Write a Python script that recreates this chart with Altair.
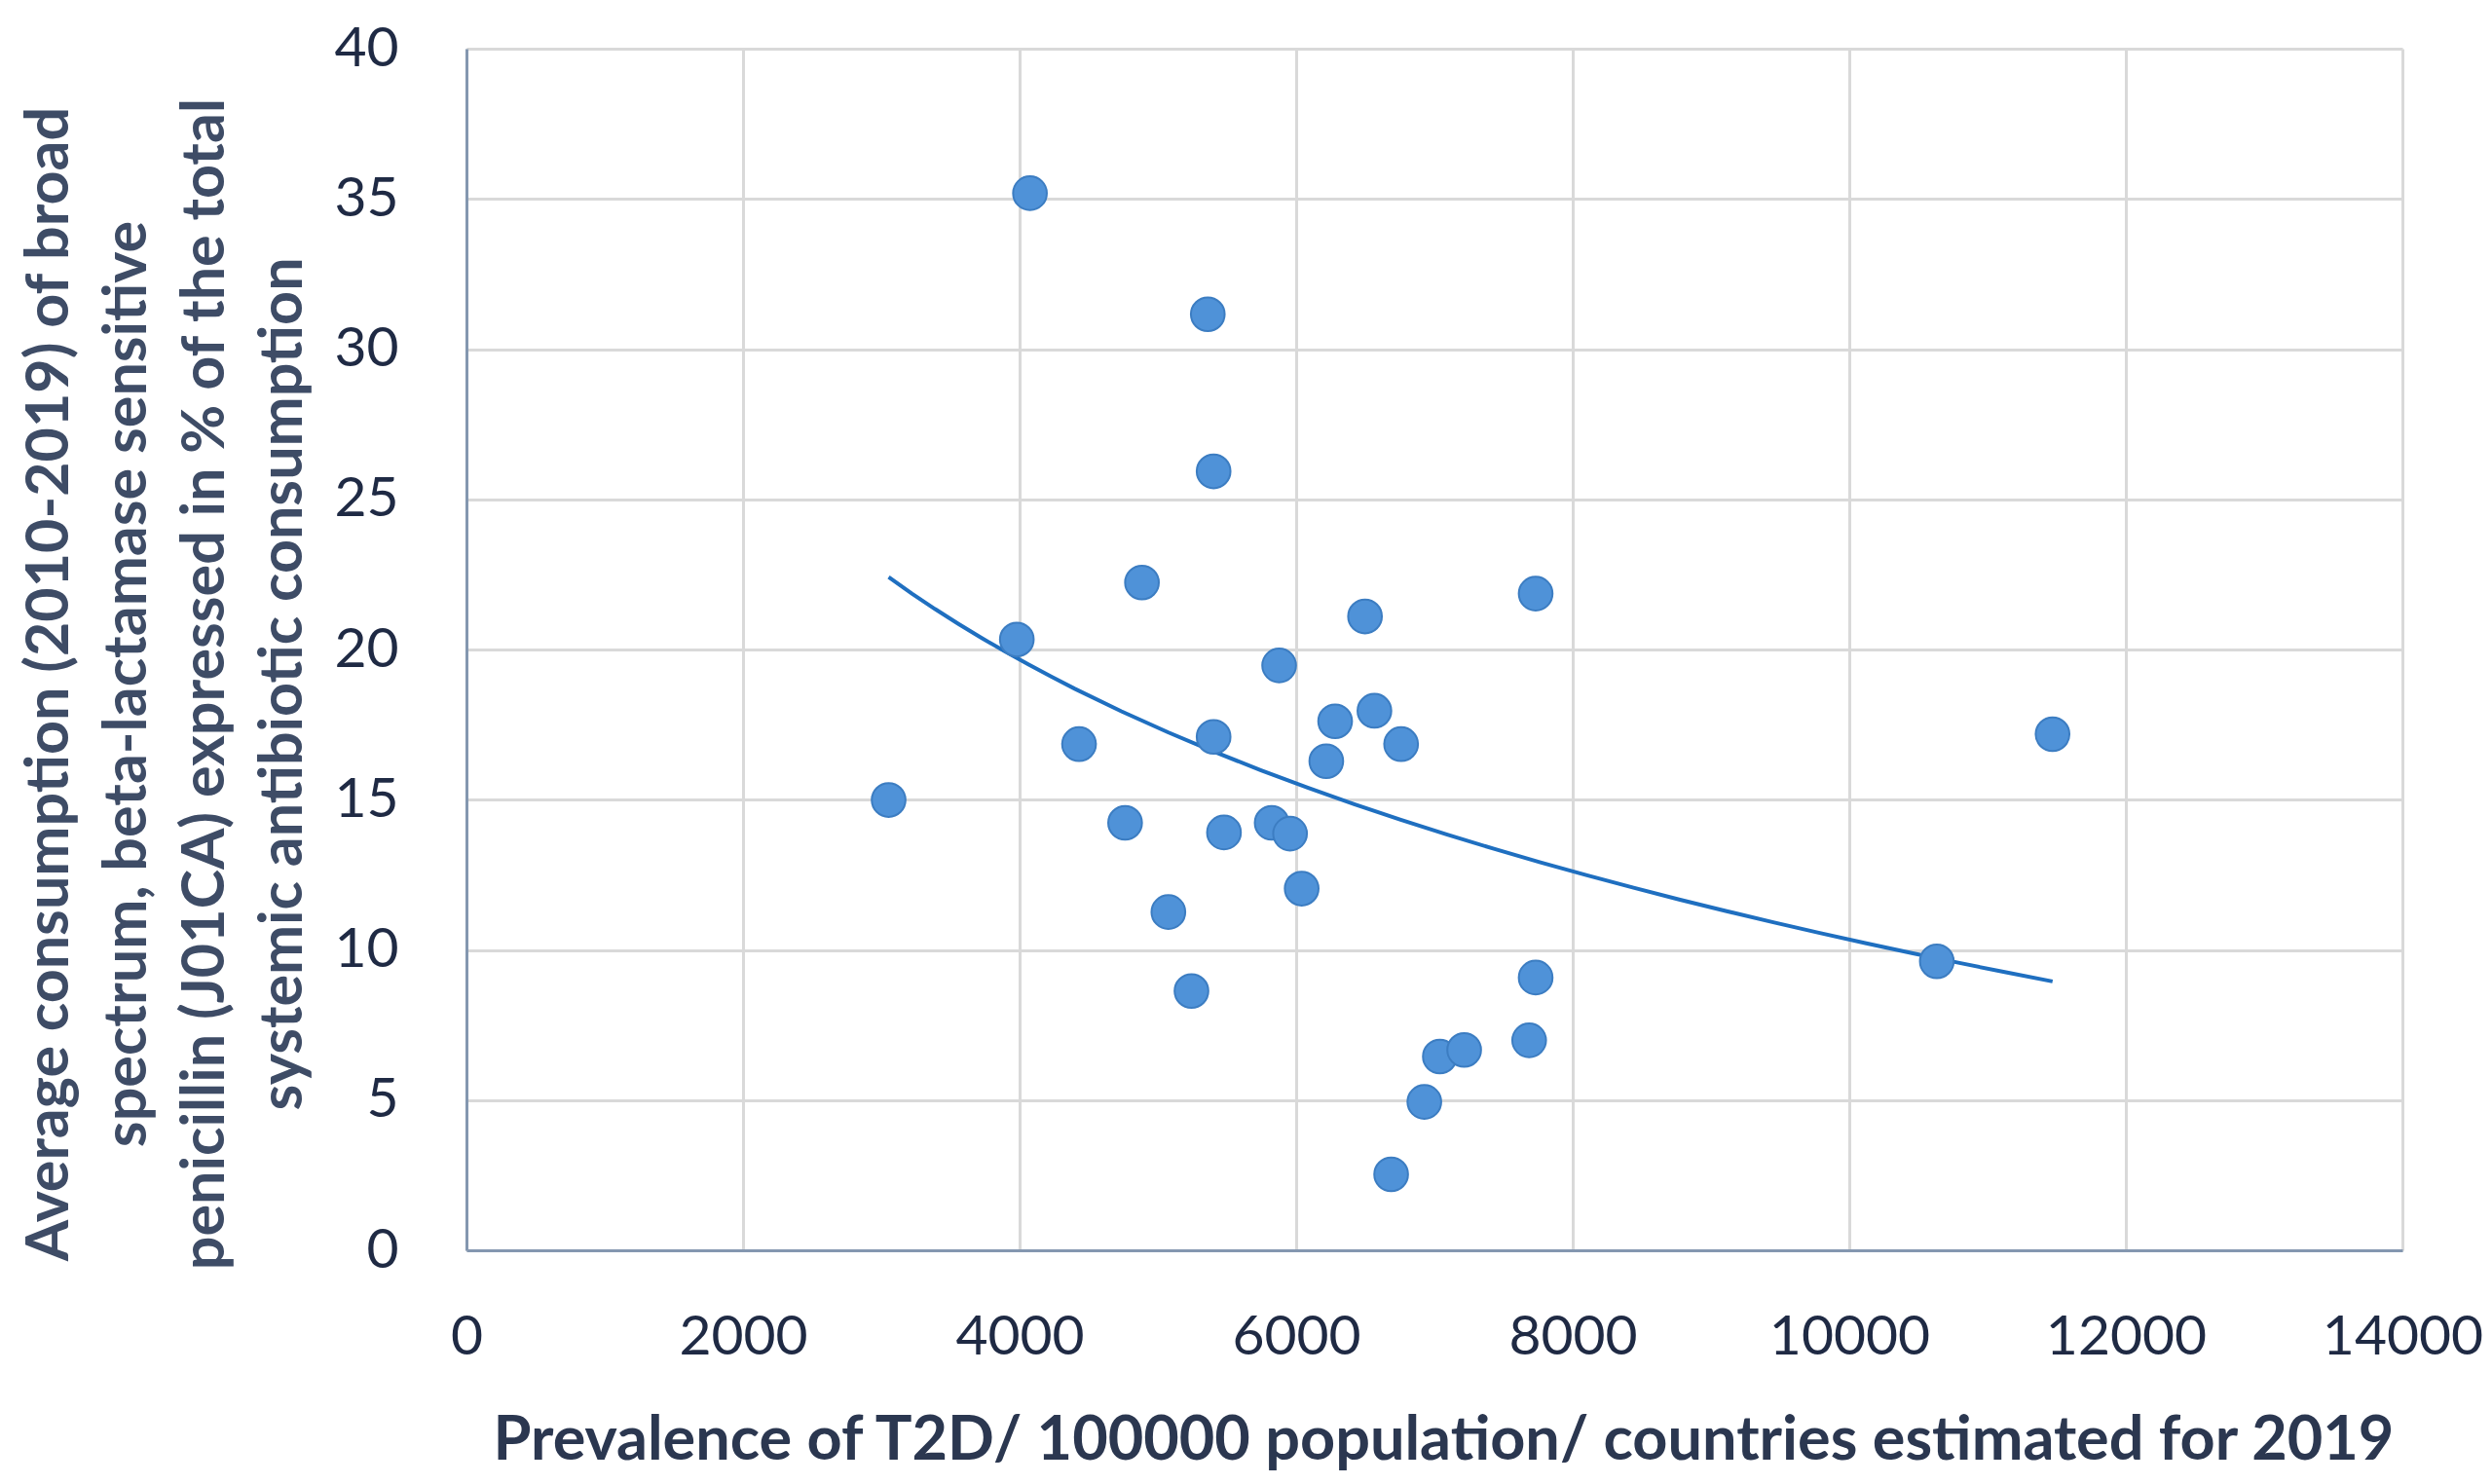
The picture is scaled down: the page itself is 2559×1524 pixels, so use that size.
import altair as alt
import pandas as pd

# Values
prevalence = [3053, 3980, 4075, 4430, 4763, 4885, 5076, 5243, 5361, 5403,
              5403, 5478, 5823, 5877, 5956, 6040, 6218, 6282, 6498, 6566,
              6687, 6759, 6927, 7039, 7215, 7685, 7732, 7732, 10633, 11470]
consumption = [14.99, 20.33, 35.19, 16.85, 14.23, 22.23, 11.26, 8.63, 31.16, 25.93,
               17.09, 13.91, 14.23, 19.47, 13.87, 12.04, 16.28, 17.61, 21.10, 17.96,
               2.53, 16.85, 4.94, 6.45, 6.67, 6.99, 9.08, 21.86, 9.62, 17.18]

x_ticks = [0, 2000, 4000, 6000, 8000, 10000, 12000, 14000]
y_ticks = [0, 5, 10, 15, 20, 25, 30, 35, 40]

x_title = "Prevalence of T2D/ 100000 population/ countries estimated for 2019"
y_title = [
    "Average consumption (2010-2019) of broad",
    "spectrum, beta-lactamase sensitive",
    "penicillin (J01CA) expressed in % of the total",
    "systemic antibiotic consumption",
]

df = pd.DataFrame({"prevalence": prevalence, "consumption": consumption})

common_axis = dict(
    grid=True,
    gridColor="#D9D9D9",
    gridWidth=3,
    domainColor="#8497B0",
    domainWidth=3,
    ticks=False,
    format="d",
    labelFont="Lato",
    labelFontSize=57,
    labelFontWeight="normal",
    labelColor="#1F2A44",
    labelFlush=False,
    labelOverlap=False,
    titleFont="Lato",
    titleFontWeight="bold",
    titleAlign="center",
    titleBaseline="alphabetic",
)

x_enc = alt.X(
    "prevalence:Q",
    scale=alt.Scale(domain=[0, 14000], nice=False),
    axis=alt.Axis(
        values=x_ticks,
        title=x_title,
        labelPadding=61,
        titleFontSize=63,
        titleColor="#2B3750",
        titleX=1003,
        titleY=214,
        titleAngle=0,
        **common_axis,
    ),
)
y_enc = alt.Y(
    "consumption:Q",
    scale=alt.Scale(domain=[0, 40], nice=False),
    axis=alt.Axis(
        values=y_ticks,
        title=y_title,
        labelPadding=70,
        titleFontSize=61,
        titleColor="#3E4C66",
        titleLineHeight=80,
        titleX=-410,
        titleY=652,
        titleAngle=270,
        **common_axis,
    ),
)

base = alt.Chart(df)

trend = base.transform_regression(
    "prevalence", "consumption", method="log"
).mark_line(color="#1F6FC0", strokeWidth=4).encode(x=x_enc, y=y_enc)

points = base.mark_circle(
    size=1200, color="#4F92D8", opacity=1, stroke="#3C7DC2", strokeWidth=2
).encode(x=x_enc, y=y_enc)

chart = alt.layer(trend, points).properties(
    width=1988,
    height=1234,
    padding={"left": 471, "top": 42, "right": 84, "bottom": 232},
    autosize=alt.AutoSizeParams(type="none"),
    background="white",
).configure_view(strokeWidth=0)

chart.save("out.html", embed_options={"renderer": "svg", "actions": False})
